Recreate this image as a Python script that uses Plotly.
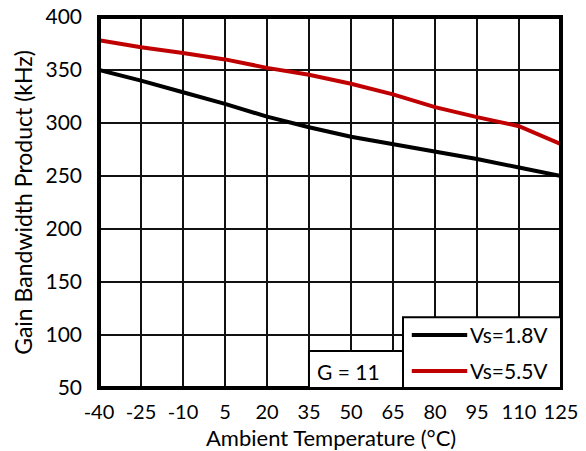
import plotly.graph_objects as go

temps = [-40, -25, -10, 5, 20, 35, 50, 65, 80, 95, 110, 125]
gbw_vs18 = [350, 340, 329, 318, 306, 296, 287, 280, 273, 266, 258, 250]
gbw_vs55 = [378, 371.5, 366, 360, 352, 345.5, 337, 327, 315, 305.5, 297, 280]
x_ticks = temps
y_ticks = [50, 100, 150, 200, 250, 300, 350, 400]
series_names = ["Vs=1.8V", "Vs=5.5V"]
series_colors = ["#000000", "#c00000"]
gain_label = "G = 11"
x_title = "Ambient Temperature (°C)"
y_title = "Gain Bandwidth Product (kHz)"

FONT = "Lato, Noto Sans, sans-serif"
W, H = 586, 451
L, R, T, B = 99, 25, 17, 63
PW, PH = W - L - R, H - T - B

fig = go.Figure()
for name, vals, col in zip(series_names, [gbw_vs18, gbw_vs55], series_colors):
    fig.add_trace(go.Scatter(x=temps, y=vals, mode="lines", name=name,
                             line=dict(color=col, width=4), showlegend=False))

shapes = []
annotations = []

# plot frame
shapes.append(dict(type="rect", xref="paper", yref="paper", x0=0, x1=1, y0=0, y1=1,
                   line=dict(color="#000", width=4), layer="above"))

# legend box with line samples
shapes.append(dict(type="rect", xref="paper", yref="paper", x0=0.658, x1=1, y0=0, y1=0.191,
                   line=dict(color="#000", width=2), fillcolor="white", layer="above"))
for yy, name, col in zip([0.143, 0.046], series_names, series_colors):
    shapes.append(dict(type="line", xref="paper", yref="paper", x0=0.677, x1=0.797,
                       y0=yy, y1=yy, line=dict(color=col, width=4), layer="above"))
    annotations.append(dict(x=0.799, y=yy, xref="paper", yref="paper",
                            xanchor="left", yanchor="middle", text=name, showarrow=False,
                            font=dict(family=FONT, size=21, color="#000")))

# gain note box
shapes.append(dict(type="rect", xref="paper", yref="paper", x0=0.4545, x1=0.658, y0=0, y1=0.0997,
                   line=dict(color="#000", width=2), fillcolor="white", layer="above"))
annotations.append(dict(x=0.4675, y=0.044, xref="paper", yref="paper",
                        xanchor="left", yanchor="middle", text=gain_label, showarrow=False,
                        font=dict(family=FONT, size=21, color="#000")))

# x axis title
annotations.append(dict(x=(331 - L) / PW, y=-(438 - T - PH) / PH, xref="paper", yref="paper",
                        xanchor="center", yanchor="middle", text=x_title, showarrow=False,
                        font=dict(family=FONT, size=22, color="#000")))

fig.update_layout(
    width=W, height=H,
    margin=dict(l=L, r=R, t=T, b=B),
    paper_bgcolor="white", plot_bgcolor="white",
    font=dict(family=FONT, size=21, color="#000"),
    showlegend=False,
    shapes=shapes, annotations=annotations,
    xaxis=dict(range=[-40, 125], tickmode="array", tickvals=x_ticks,
               ticktext=[str(v) for v in x_ticks], automargin=False,
               showgrid=True, gridcolor="#111", gridwidth=2,
               showline=False, ticks="", zeroline=False, ticklabelstandoff=10,
               tickfont=dict(family=FONT, size=20)),
    yaxis=dict(range=[50, 400], tickmode="array", tickvals=y_ticks, automargin=False,
               showgrid=True, gridcolor="#111", gridwidth=2,
               showline=False, ticks="", zeroline=False, ticklabelstandoff=16,
               tickfont=dict(family=FONT, size=21),
               title=dict(text=y_title, standoff=6,
                          font=dict(family=FONT, size=23, color="#000"))),
)

fig.write_html("out.html")
